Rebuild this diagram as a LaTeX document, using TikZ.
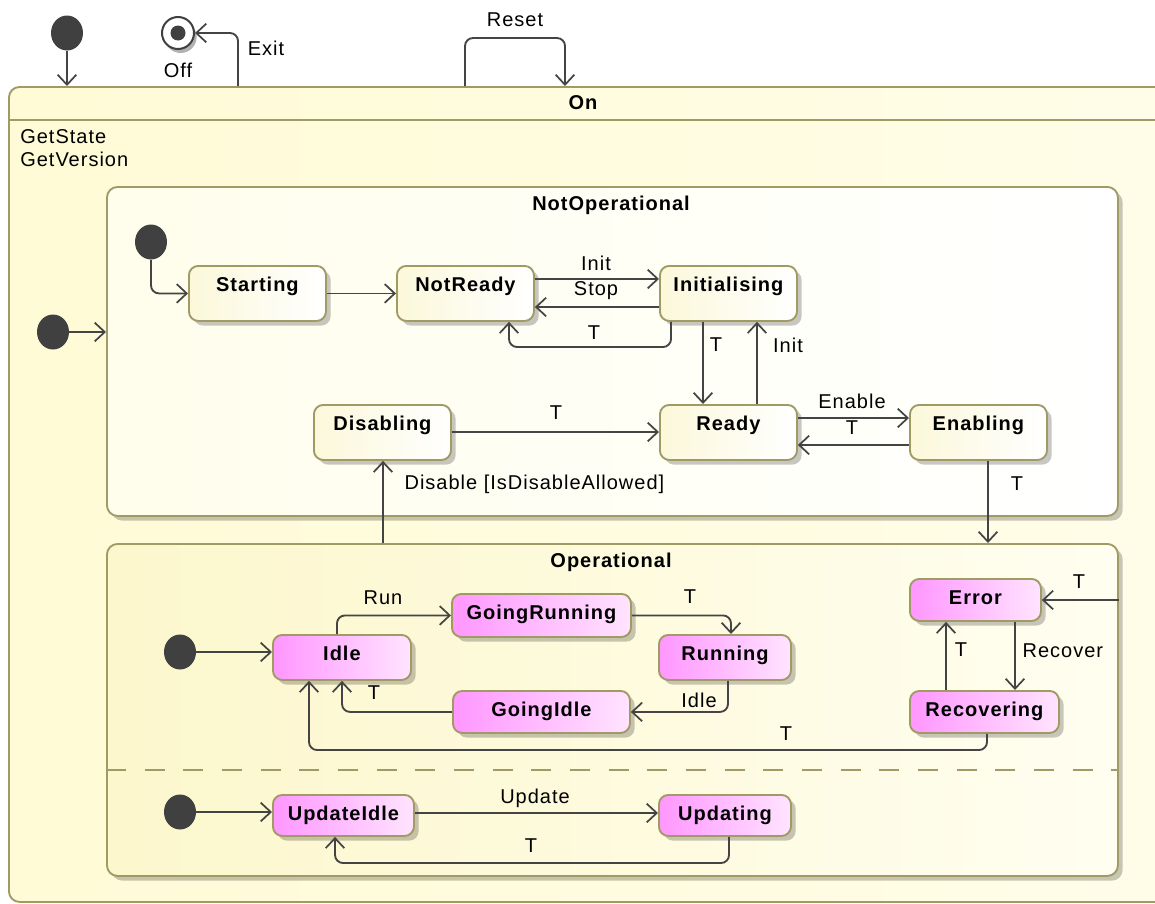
\documentclass[tikz,border=0pt]{standalone}
\usepackage{fontspec}
\setmainfont{Liberation Sans}
\newfontfamily\spacedsans{Liberation Sans}[LetterSpace=5]
\usetikzlibrary{arrows.meta,shapes.geometric,shadows}

\definecolor{wire}{RGB}{68,68,68}
\definecolor{olive}{RGB}{160,154,100}
\definecolor{dotgray}{RGB}{64,64,64}
\definecolor{onfill}{RGB}{255,251,214}
\definecolor{onfillr}{RGB}{255,253,232}
\definecolor{nofill}{RGB}{255,254,236}
\definecolor{opfill}{RGB}{252,247,204}
\definecolor{opfillr}{RGB}{255,254,240}
\definecolor{ystate}{RGB}{251,248,218}
\definecolor{mstate}{RGB}{255,150,255}
\definecolor{mstater}{RGB}{255,228,255}

\def\pu{0.75pt}

\tikzset{
  every node/.style={font=\fontsize{15pt}{17pt}\spacedsans, text=black},
  stname/.style={font=\fontsize{15pt}{17pt}\spacedsans\bfseries},
  shade/.style={drop shadow={shadow xshift=3.5pt, shadow yshift=-3.5pt, fill=black, opacity=0.22}},
  basestate/.style={draw=olive, line width=1.4pt, rounded corners=7pt, anchor=north west,
    inner ysep=0pt, inner xsep=0pt, text height=19.5pt, shade,
    font=\fontsize{15pt}{17pt}\spacedsans\bfseries},
  ystatebox/.style={basestate, left color=ystate, right color=white, text depth=21.75pt},
  mstatebox/.style={basestate, left color=mstate, right color=mstater, text depth=#1},
  region/.style={draw=olive, line width=1.4pt, rounded corners=8pt, anchor=north west,
    inner sep=0pt, shade},
  initdot/.style={ellipse, fill=dotgray, minimum width=32*\pu, minimum height=35*\pu, inner sep=0pt},
  tr/.style={draw=wire, line width=1.4pt, rounded corners=6pt,
    -{Straight Barb[length=7.5pt,width=14pt,line width=1.3pt]}},
  lbl/.style={inner sep=1pt},
}

\begin{document}
\begin{tikzpicture}[x=0.75pt, y=-0.75pt]
\useasboundingbox (0,0) rectangle (1155,903);
\clip (0,0) rectangle (1155,903);
\fill[white] (0,0) rectangle (1155,903);

% outer composite state
\node[draw=olive, line width=1.4pt, rounded corners=8pt, anchor=north west, inner sep=0pt,
  left color=onfill, right color=onfillr, minimum width=1165*\pu, minimum height=815*\pu]
  (on) at (8,86) {};
\draw[olive, line width=1.4pt] (on.west |- 0,120) -- (on.east |- 0,120);
\node[stname] (ontitle) at (583,103) {On};
\node[anchor=north west, align=left, inner sep=0pt, font=\fontsize{15pt}{17.25pt}\spacedsans]
  (onacts) at (20,129) {GetState\\GetVersion};

% top level pseudo states
\node[initdot] (i0) at (67,33) {};
\node[circle, draw=dotgray, line width=1.5pt, fill=white, minimum size=32*\pu, inner sep=0pt,
  drop shadow={shadow xshift=2pt, shadow yshift=-3pt, fill=black, opacity=0.3}] (off) at (178,33) {};
\fill[dotgray] (off.center) circle (7.5);
\node[lbl] (offlbl) at (178,70) {Off};

% regions
\node[region, left color=nofill, right color=white, minimum width=1011*\pu, minimum height=329*\pu]
  (notop) at (106,186) {};
\node[stname] (notoptitle) at (611,205) {NotOperational};
\node[region, left color=opfill, right color=opfillr, minimum width=1011*\pu, minimum height=332*\pu]
  (oper) at (106,543) {};
\node[stname] (opertitle) at (611,562) {Operational};
\draw[olive, line width=1.4pt, dash pattern=on 15pt off 14pt] (oper.west |- 0,770) -- (oper.east |- 0,770);

% NotOperational states
\node[initdot] (i1) at (53,332) {};
\node[initdot] (i2) at (151,242) {};
\node[ystatebox, minimum width=137*\pu] (starting) at (188,265) {Starting};
\node[ystatebox, minimum width=137*\pu] (notready) at (396,265) {NotReady};
\node[ystatebox, minimum width=137*\pu] (initialising) at (659,265) {Initialising};
\node[ystatebox, minimum width=137*\pu] (ready) at (659,404) {Ready};
\node[ystatebox, minimum width=137*\pu] (enabling) at (909,404) {Enabling};
\node[ystatebox, minimum width=137*\pu] (disabling) at (313,404) {Disabling};

% Operational states
\node[initdot] (i3) at (180,652) {};
\node[initdot] (i4) at (180,812) {};
\node[mstatebox=14.25pt, minimum width=138*\pu] (idle) at (272,634) {Idle};
\node[mstatebox=12.75pt, minimum width=179*\pu] (goingrun) at (451,593) {GoingRunning};
\node[mstatebox=14.25pt, minimum width=132*\pu] (running) at (658,634) {Running};
\node[mstatebox=12pt, minimum width=177*\pu] (goingidle) at (452,690) {GoingIdle};
\node[mstatebox=12pt, minimum width=131*\pu] (error) at (909,578) {Error};
\node[mstatebox=12pt, minimum width=149*\pu] (recovering) at (909,690) {Recovering};
\node[mstatebox=11.25pt, minimum width=141*\pu] (updateidle) at (272,794) {UpdateIdle};
\node[mstatebox=11.25pt, minimum width=132*\pu] (updating) at (658,794) {Updating};

% transitions of On
\draw[tr] (i0) -- (i0 |- on.north);
\draw[tr] (on.north -| 238,0) |- (off);
\draw[tr] (on.north -| 465,0) -- (465,38) -- (565,38) -- (on.north -| 565,0);
\node[lbl] (exitlbl) at (266,48) {Exit};
\node[lbl] (resetlbl) at (515,20) {Reset};

% transitions of NotOperational
\draw[tr] (i1) -- (i1 -| notop.west);
\draw[tr] (i2) |- (starting);
\draw[tr] (starting) -- (notready);
\draw[tr] (notready.east |- 0,279) -- (initialising.west |- 0,279);
\draw[tr] (initialising.west |- 0,307) -- (notready.east |- 0,307);
\draw[tr] (initialising.south -| 671,0) -- (671,347) -| (notready.south -| 509,0);
\draw[tr] (initialising.south -| 703,0) -- (ready.north -| 703,0);
\draw[tr] (ready.north -| 757,0) -- (initialising.south -| 757,0);
\draw[tr] (ready.east |- 0,418) -- (enabling.west |- 0,418);
\draw[tr] (enabling.west |- 0,445) -- (ready.east |- 0,445);
\draw[tr] (disabling.east |- 0,432) -- (ready.west |- 0,432);
\draw[tr] (oper.north -| 383,0) -- (disabling.south -| 383,0);
\draw[tr] (enabling.south -| 988,0) -- (oper.north -| 988,0);
\node[lbl] (l1) at (596,263) {Init};
\node[lbl] (l2) at (596,291) {Stop};
\node[lbl] (l3) at (594,333) {T};
\node[lbl] (l4) at (716,345) {T};
\node[lbl] (l5) at (788,345) {Init};
\node[lbl] (l6) at (852,401) {Enable};
\node[lbl] (l7) at (852,428) {T};
\node[lbl] (l8) at (556,413) {T};
\node[lbl, anchor=west] (l9) at (403,484) {Disable [IsDisableAllowed]};
\node[lbl] (l10) at (1017,484) {T};

% transitions of Operational
\draw[tr] (i3) -- (idle.west |- i3);
\draw[tr] (idle.north -| 337,0) |- (goingrun);
\draw[tr] (goingrun.east) -| (running.north -| 731,0);
\draw[tr] (running.south -| 728,0) |- (goingidle.east);
\draw[tr] (goingidle.west) -| (idle.south -| 342,0);
\draw[tr] (oper.east |- 0,600) -- (error.east |- 0,600);
\draw[tr] (error.south -| 1015,0) -- (recovering.north -| 1015,0);
\draw[tr] (recovering.north -| 946,0) -- (error.south -| 946,0);
\draw[tr] (recovering.south -| 987,0) -- (987,750) -| (idle.south -| 309,0);
\draw[tr] (i4) -- (updateidle.west |- i4);
\draw[tr] (updateidle.east |- 0,813) -- (updating.west |- 0,813);
\draw[tr] (updating.south -| 729,0) -- (729,863) -| (updateidle.south -| 335,0);
\node[lbl] (m1) at (383,598) {Run};
\node[lbl] (m2) at (690,597) {T};
\node[lbl] (m3) at (699,700) {Idle};
\node[lbl] (m4) at (374,693) {T};
\node[lbl] (m5) at (1079,582) {T};
\node[lbl, anchor=west] (m6) at (1021,651) {Recover};
\node[lbl] (m7) at (961,650) {T};
\node[lbl] (m8) at (786,734) {T};
\node[lbl] (m9) at (535,798) {Update};
\node[lbl] (m10) at (531,846) {T};
\end{tikzpicture}
\end{document}
